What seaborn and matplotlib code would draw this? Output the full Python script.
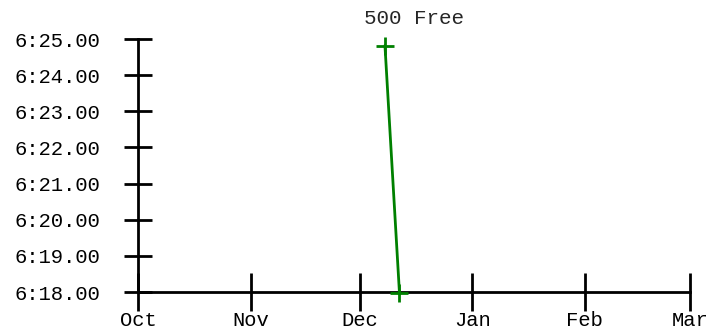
import matplotlib
matplotlib.use("Agg")
import matplotlib.pyplot as plt
import matplotlib.dates as mdates
from matplotlib.ticker import FuncFormatter, FixedLocator
import seaborn as sns
import pandas as pd

# Data
dates = ["2023-12-08", "2023-12-12"]
times_sec = [384.82, 377.97]  # 6:24.82, 6:17.97
y_ticks = [378, 379, 380, 381, 382, 383, 384, 385]
x_ticks = ["2023-10-01", "2023-11-01", "2023-12-01", "2024-01-01", "2024-02-01", "2024-03-01"]
x_labels = ["Oct", "Nov", "Dec", "Jan", "Feb", "Mar"]
title = "500 Free"

df = pd.DataFrame({"date": pd.to_datetime(dates), "time": times_sec})

sns.set_style("white")
plt.rcParams["font.family"] = ["Liberation Mono", "DejaVu Sans Mono"]

W, H = 727, 329
fig = plt.figure(figsize=(W / 100, H / 100), dpi=100)
ax = fig.add_axes([138 / W, (H - 292) / H, (690 - 138) / W, (292 - 39) / H])

sns.lineplot(data=df, x="date", y="time", ax=ax, color="#008000", linewidth=2,
             marker="+", markersize=13, markeredgewidth=2, markeredgecolor="#008000",
             clip_on=False)

ax.set_xlim(pd.Timestamp(x_ticks[0]), pd.Timestamp(x_ticks[-1]))
ax.set_ylim(y_ticks[0], y_ticks[-1])
ax.xaxis.set_major_locator(FixedLocator(mdates.date2num(pd.to_datetime(x_ticks))))
ax.set_xticklabels(x_labels)
ax.set_yticks(y_ticks)
ax.yaxis.set_major_formatter(FuncFormatter(lambda v, p: f"{int(v // 60)}:{v % 60:05.2f}"))

for s in ["top", "right"]:
    ax.spines[s].set_visible(False)
for s in ["left", "bottom"]:
    ax.spines[s].set_linewidth(2)
    ax.spines[s].set_color("black")
    ax.spines[s].set_zorder(1)

ax.tick_params(axis="y", left=True, direction="inout", length=20, width=2, pad=17,
               labelsize=14.8, colors="black")
ax.tick_params(axis="x", bottom=True, direction="inout", length=27, width=2, pad=0,
               labelsize=14.8, colors="black")
ax.set_xlabel("")
ax.set_ylabel("")
ax.grid(False)
ax.set_title(title, fontsize=15, pad=11)

fig.savefig("out.png", dpi=100)
